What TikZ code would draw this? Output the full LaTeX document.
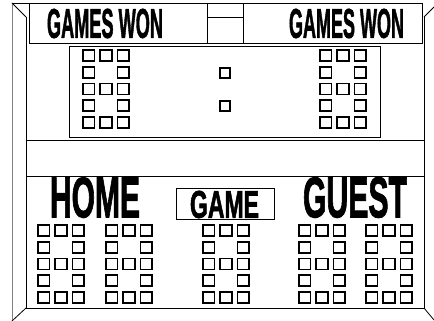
\documentclass[tikz,border=0pt]{standalone}
\usepackage{fontspec}
\setmainfont{Liberation Sans}[BoldFeatures={FakeBold=2}]
\usepackage{graphicx}
\tikzset{
  frameline/.style={line width=0.8pt, black},
  sq/.style={line width=1.8pt, black},
  lbl/.style={inner sep=0pt, anchor=center, font=\bfseries},
}
\newcommand\segdigit[2]{%
  \foreach \r/\c in {0/0,0/1,0/2,1/0,1/2,2/0,2/1,2/2,3/0,3/2,4/0,4/1,4/2}{%
    \draw[sq] ({#1+\c*17.2},{#2+\r*16.75}) rectangle ++(11.5,11);
  }%
}
\begin{document}
\begin{tikzpicture}[x=1pt,y=-1pt]
\useasboundingbox (0,0) rectangle (434,321);
\fill[white] (0,0) rectangle (434,321);
% frame
\draw[frameline, gray] (12,3) -- (12,321);
\draw[frameline] (12,3) -- (422,3);
\draw[frameline] (12,3) -- (26,17);
\draw[frameline] (26,17) -- (26,308) -- (424,308) -- (424,17);
\draw[frameline] (424,17) -- (434,7);
\draw[frameline] (26,308) -- (12,321);
\draw[frameline] (424,308) -- (434,320);
% label boxes
\draw[frameline] (29,3) rectangle (207,43);
\draw[frameline] (243,3) rectangle (422,43);
\draw[frameline] (207,17) -- (243,17);
\draw[frameline] (207,43) -- (243,43);
% middle panel
\draw[frameline] (69,46) rectangle (380,137);
\draw[frameline] (26,140) -- (424,140);
\draw[frameline] (26,176) -- (424,176);
% labels
\node[lbl] (gwl) at (105,23.5) {\resizebox{116pt}{29pt}{GAMES WON}};
\node[lbl] (gwr) at (346.5,23.5) {\resizebox{115pt}{29pt}{GAMES WON}};
\node[lbl] (home) at (95,197.5) {\resizebox{90pt}{40pt}{HOME}};
\node[lbl] (guest) at (355,197.5) {\resizebox{104pt}{40pt}{GUEST}};
\draw[frameline] (176,188) rectangle (274,219);
\node[lbl] (game) at (224.5,204.5) {\resizebox{69pt}{27pt}{GAME}};
% digits
\segdigit{83}{50}
\segdigit{320}{50}
\segdigit{38}{225}
\segdigit{106}{225}
\segdigit{203}{225}
\segdigit{299}{225}
\segdigit{366}{225}
% colon
\draw[sq] (220,68) rectangle ++(10,10);
\draw[sq] (220,101) rectangle ++(10,10);
\end{tikzpicture}
\end{document}
